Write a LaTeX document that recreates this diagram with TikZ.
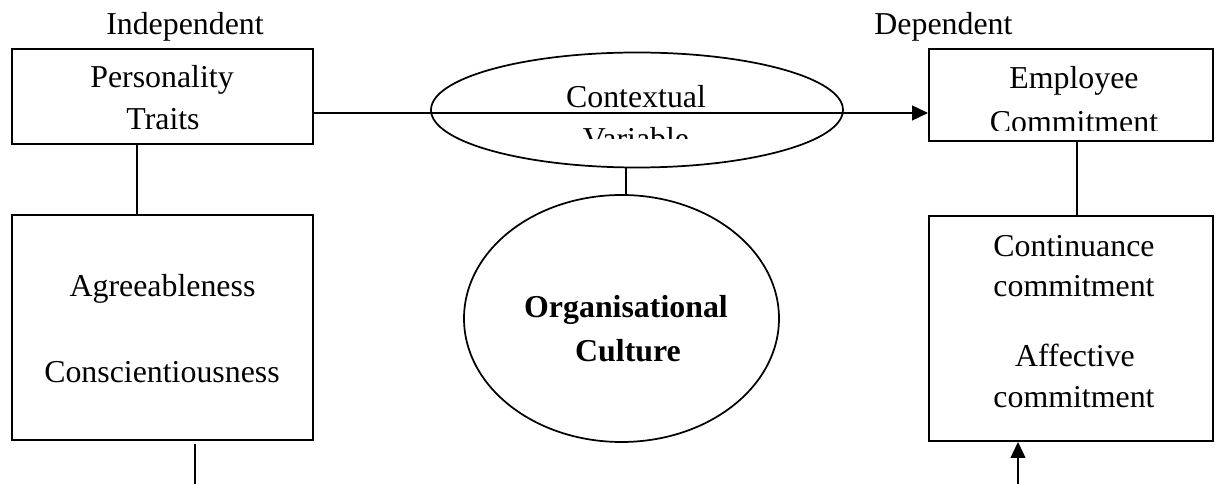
\documentclass[tikz,border=0pt]{standalone}
\usepackage{fontspec}
\setmainfont{Liberation Serif}
\usetikzlibrary{shapes.geometric,arrows.meta}
\newdimen\upx
\upx=0.75pt
\begin{document}
\begin{tikzpicture}[x=0.75pt,y=-0.75pt,
  line width=1.4pt,
  txt/.style={font=\fontsize{23.9}{28}\selectfont, inner sep=0pt, anchor=base},
  boxnode/.style={draw, rectangle, inner sep=0pt},
  ovalnode/.style={draw, ellipse, inner sep=0pt, line width=1.3pt},
  arr/.style={line width=1.7pt, -{Triangle[length=12pt,width=11pt]}}]
\useasboundingbox (0,0) rectangle (1215,484);

% headings
\node[txt] (hind) at (185,35) {Independent};
\node[txt] (hdep) at (943.5,35) {Dependent};

% left column
\node[boxnode, minimum width=301\upx, minimum height=95\upx] (PT) at (162.5,96.5) {};
\node[txt] (pt1) at (162,88) {Personality};
\node[txt] (pt2) at (163,130) {Traits};
\node[boxnode, minimum width=301\upx, minimum height=225\upx] (AC) at (162.5,327.5) {};
\node[txt] (ac1) at (162.5,297) {Agreeableness};
\node[txt] (ac2) at (162,383) {Conscientiousness};

% right column
\node[boxnode, minimum width=284\upx, minimum height=92\upx] (EC) at (1071,95) {};
\node[txt] (ec1) at (1074,89) {Employee};
\begin{scope}
  \clip (900,100) rectangle (1210,131);
  \node[txt] (ec2) at (1074,133) {Commitment};
\end{scope}
\node[boxnode, minimum width=284\upx, minimum height=225\upx] (CC) at (1071,328.5) {};
\node[txt] (cc1) at (1074,257) {Continuance};
\node[txt] (cc2) at (1074,297) {commitment};
\node[txt] (cc3) at (1075,367) {Affective};
\node[txt] (cc4) at (1074,408) {commitment};

% centre column
\node[ovalnode, minimum width=412\upx, minimum height=115\upx] (CV) at (637,110) {};
\node[txt] (cv1) at (636,108) {Contextual};
\begin{scope}
  \clip (500,116) rectangle (780,139);
  \node[txt] (cv2) at (636,150) {Variable};
\end{scope}
\node[ovalnode, minimum width=315\upx, minimum height=247\upx] (OC) at (621.5,318.5) {};
\node[txt, font=\fontsize{23.9}{28}\selectfont\bfseries] (oc1) at (626,318) {Organisational};
\node[txt, font=\fontsize{23.9}{28}\selectfont\bfseries] (oc2) at (628,362) {Culture};

% connectors
\coordinate (ay) at (0,113);
\draw[arr] (PT.east |- ay) -- (EC.west |- ay);

\coordinate (xl) at (137,0);
\draw (PT.south -| xl) -- (AC.north -| xl);
\coordinate (xlb) at (195,484);
\draw ([yshift=-3\upx]AC.south -| xlb) -- (xlb);

\coordinate (xm) at (626,0);
\draw (CV.south -| xm) -- (OC.north -| xm);

\coordinate (xr) at (1077,0);
\draw (EC.south -| xr) -- (CC.north -| xr);
\coordinate (xrb) at (1018,484);
\draw[arr] (xrb) -- (CC.south -| xrb);
\end{tikzpicture}
\end{document}
